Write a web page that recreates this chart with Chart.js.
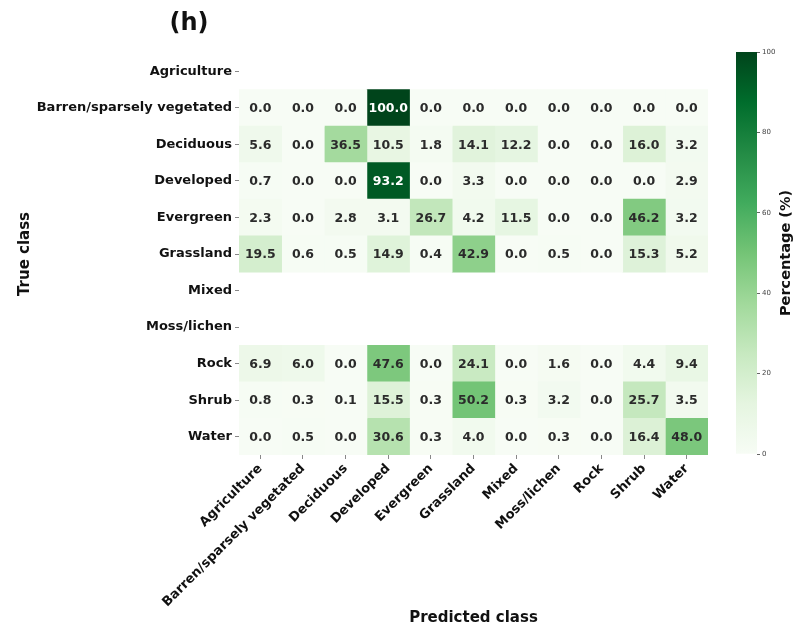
<!DOCTYPE html>
<html>
<head>
<meta charset="utf-8">
<script src="https://cdn.jsdelivr.net/npm/chart.js@4"></script>
<style>
  body { margin: 0; background: #fff; }
  #wrap { position: relative; width: 801px; height: 628px; }
  #wrap canvas { position: absolute; left: 0; top: 0; }
</style>
</head>
<body>
<div id="wrap">
  <canvas id="matrix" width="801" height="628"></canvas>
  <canvas id="colorbar" width="801" height="628"></canvas>
</div>
<script>
// confusion matrix (h) - percentages per true class
const classes = ['Agriculture', 'Barren/sparsely vegetated', 'Deciduous', 'Developed', 'Evergreen',
    'Grassland', 'Mixed', 'Moss/lichen', 'Rock', 'Shrub', 'Water'];

const barren    = [0.0, 0.0, 0.0, 100.0, 0.0, 0.0, 0.0, 0.0, 0.0, 0.0, 0.0];
const deciduous = [5.6, 0.0, 36.5, 10.5, 1.8, 14.1, 12.2, 0.0, 0.0, 16.0, 3.2];
const developed = [0.7, 0.0, 0.0, 93.2, 0.0, 3.3, 0.0, 0.0, 0.0, 0.0, 2.9];
const evergreen = [2.3, 0.0, 2.8, 3.1, 26.7, 4.2, 11.5, 0.0, 0.0, 46.2, 3.2];
const grassland = [19.5, 0.6, 0.5, 14.9, 0.4, 42.9, 0.0, 0.5, 0.0, 15.3, 5.2];
const rock      = [6.9, 6.0, 0.0, 47.6, 0.0, 24.1, 0.0, 1.6, 0.0, 4.4, 9.4];
const shrub     = [0.8, 0.3, 0.1, 15.5, 0.3, 50.2, 0.3, 3.2, 0.0, 25.7, 3.5];
const water     = [0.0, 0.5, 0.0, 30.6, 0.3, 4.0, 0.0, 0.3, 0.0, 16.4, 48.0];

// rows with no samples (Agriculture, Mixed, Moss/lichen) stay empty
const rowValues = [null, barren, deciduous, developed, evergreen, grassland, null, null, rock, shrub, water];

const colorbarTicks = [0, 20, 40, 60, 80, 100];

// matplotlib "Greens"
const greens = ['#f7fcf5', '#e5f5e0', '#c7e9c0', '#a1d99b', '#74c476', '#41ab5d', '#238b45', '#006d2c', '#00441b'];

function hexToRgb(h) {
    return [parseInt(h.slice(1, 3), 16), parseInt(h.slice(3, 5), 16), parseInt(h.slice(5, 7), 16)];
}

function greenFor(v) {
    const t = Math.max(0, Math.min(1, v / 100)) * (greens.length - 1);
    const i = Math.min(Math.floor(t), greens.length - 2);
    const f = t - i;
    const a = hexToRgb(greens[i]), b = hexToRgb(greens[i + 1]);
    const c = a.map((x, k) => Math.round(x + (b[k] - x) * f));
    return `rgb(${c[0]},${c[1]},${c[2]})`;
}

const FONT = "'DejaVu Sans', sans-serif";

// one dataset per predicted class, each a floating bar [j, j+1] on every true-class row
const datasets = classes.map((c, j) => ({
    label: c,
    data: rowValues.map(row => row ? [j, j + 1] : null),
    backgroundColor: ctx => {
        const row = rowValues[ctx.dataIndex];
        return row ? greenFor(row[j]) : 'rgba(0,0,0,0)';
    },
    borderWidth: 0,
    barPercentage: 1,
    categoryPercentage: 1,
    grouped: false
}));

const cellLabels = {
    id: 'cellLabels',
    afterDatasetsDraw(chart) {
        const ctx = chart.ctx;
        ctx.save();
        ctx.font = `bold 12.5px ${FONT}`;
        ctx.textAlign = 'center';
        ctx.textBaseline = 'middle';
        chart.data.datasets.forEach((ds, j) => {
            chart.getDatasetMeta(j).data.forEach((el, i) => {
                const row = rowValues[i];
                if (!row) return;
                const v = row[j];
                const p = el.getCenterPoint();
                ctx.fillStyle = v > 60 ? '#ffffff' : '#2b2b2b';
                ctx.fillText(v.toFixed(1), p.x, p.y + 1);
            });
        });
        ctx.restore();
    }
};

new Chart(document.getElementById('matrix'), {
    type: 'bar',
    data: { labels: classes, datasets },
    options: {
        indexAxis: 'y',
        responsive: false,
        animation: false,
        devicePixelRatio: 1,
        layout: { padding: { left: 10, right: 93, top: 53, bottom: 0 } },
        plugins: { legend: { display: false }, tooltip: { enabled: false } },
        scales: {
            x: {
                type: 'linear',
                min: 0,
                max: classes.length,
                afterBuildTicks: s => { s.ticks = classes.map((c, i) => ({ value: i + 0.5 })); },
                afterFit: s => { s.height = 173; },
                ticks: {
                    autoSkip: false,
                    minRotation: 45,
                    maxRotation: 45,
                    padding: 2,
                    color: '#111',
                    font: { family: FONT, size: 13, weight: 'bold' },
                    callback: (v, i) => classes[i]
                },
                grid: { drawOnChartArea: false, tickLength: 4, color: '#888' },
                border: { display: false },
                title: {
                    display: true,
                    text: 'Predicted class',
                    color: '#111',
                    padding: { bottom: 1 },
                    font: { family: FONT, size: 15, weight: 'bold' }
                }
            },
            y: {
                type: 'category',
                afterFit: s => { s.width = 229; },
                ticks: {
                    autoSkip: false,
                    padding: 3,
                    color: '#111',
                    font: { family: FONT, size: 13, weight: 'bold' }
                },
                grid: { drawOnChartArea: false, offset: false, tickLength: 4, color: '#888' },
                border: { display: false },
                title: {
                    display: true,
                    text: 'True class',
                    color: '#111',
                    padding: { top: 6 },
                    font: { family: FONT, size: 15, weight: 'bold' }
                }
            }
        }
    },
    plugins: [cellLabels]
});

const extraText = {
    id: 'extraText',
    afterDraw(chart) {
        const ctx = chart.ctx;
        const area = chart.chartArea;
        ctx.save();
        ctx.fillStyle = '#111';
        ctx.textAlign = 'center';
        ctx.textBaseline = 'middle';
        ctx.font = `bold 24px ${FONT}`;
        ctx.fillText('(h)', 189, 24);
        ctx.translate(786, (area.top + area.bottom) / 2);
        ctx.rotate(-Math.PI / 2);
        ctx.font = `bold 14.5px ${FONT}`;
        ctx.fillText('Percentage (%)', 0, 0);
        ctx.restore();
    }
};

new Chart(document.getElementById('colorbar'), {
    type: 'bar',
    data: {
        labels: [''],
        datasets: [{
            data: [[0, 100]],
            backgroundColor: ctx => {
                const chart = ctx.chart;
                const y = chart.scales.y;
                if (!chart.chartArea || !y) return greens[4];
                const g = chart.ctx.createLinearGradient(0, y.getPixelForValue(0), 0, y.getPixelForValue(100));
                greens.forEach((c, i) => g.addColorStop(i / (greens.length - 1), c));
                return g;
            },
            borderWidth: 0,
            barPercentage: 1,
            categoryPercentage: 1
        }]
    },
    options: {
        responsive: false,
        animation: false,
        devicePixelRatio: 1,
        layout: { padding: { left: 736, right: 14, top: 52, bottom: 174 } },
        plugins: { legend: { display: false }, tooltip: { enabled: false } },
        scales: {
            x: { display: false },
            y: {
                position: 'right',
                min: 0,
                max: 100,
                afterBuildTicks: s => { s.ticks = colorbarTicks.map(v => ({ value: v })); },
                afterFit: s => { s.width = 30; },
                ticks: { padding: 2, color: '#444', font: { family: FONT, size: 7 } },
                grid: { drawOnChartArea: false, tickLength: 3, color: '#666' },
                border: { display: false }
            }
        }
    },
    plugins: [extraText]
});
</script>
</body>
</html>
